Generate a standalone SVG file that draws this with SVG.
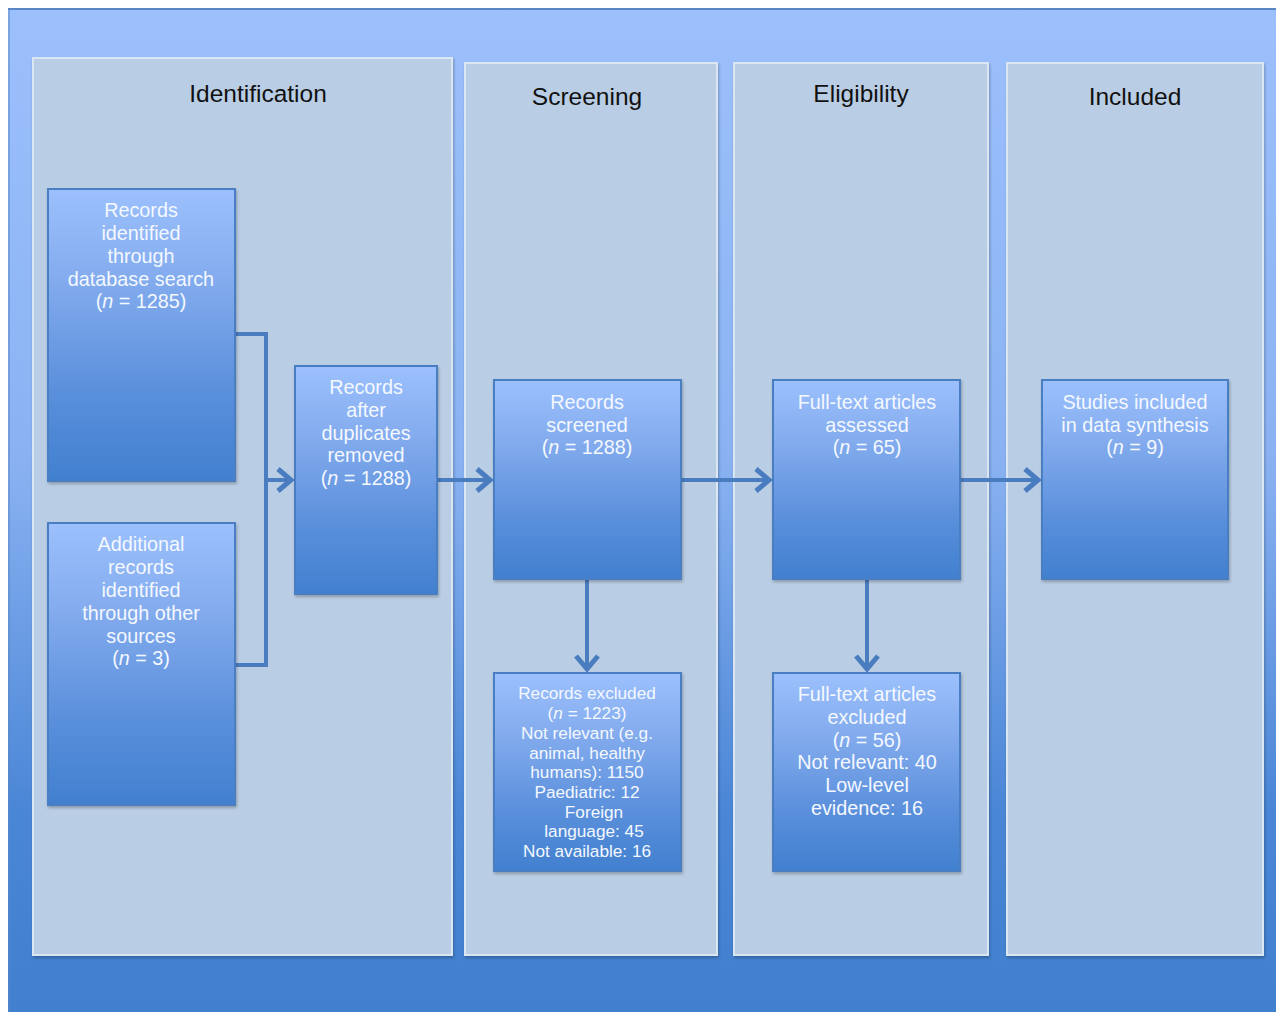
<svg xmlns="http://www.w3.org/2000/svg" width="1276" height="1012" viewBox="0 0 1276 1012">
<defs>
<linearGradient id="bg" x1="0" y1="0" x2="0" y2="1">
<stop offset="0" stop-color="#9cc0fc"/>
<stop offset="0.45" stop-color="#8ab2f2"/>
<stop offset="0.8" stop-color="#4a86d6"/>
<stop offset="1" stop-color="#4180cf"/>
</linearGradient>
<linearGradient id="box" x1="0" y1="0" x2="0" y2="1">
<stop offset="0" stop-color="#9cc0fd"/>
<stop offset="0.3" stop-color="#84acee"/>
<stop offset="0.7" stop-color="#5a8fdb"/>
<stop offset="1" stop-color="#4180cf"/>
</linearGradient>
<filter id="sh" x="-5%" y="-5%" width="115%" height="115%">
<feDropShadow dx="1" dy="2" stdDeviation="1.5" flood-color="#000" flood-opacity="0.25"/>
</filter>
</defs>
<style>
.panel{fill:#b9cde4;stroke:#dbe6f3;stroke-width:2}
.node{fill:url(#box);stroke:#4a7fc2;stroke-width:2}
.t{font-family:"Liberation Sans",Arial,sans-serif;font-size:19.8px;fill:#f4f8ff;text-anchor:middle}
.ts{font-family:"Liberation Sans",Arial,sans-serif;font-size:17.2px;fill:#f4f8ff;text-anchor:middle}
.h{font-family:"Liberation Sans",Arial,sans-serif;font-size:24.5px;fill:#111111;text-anchor:middle}
.c{fill:none;stroke:#4a7dc0;stroke-width:4}
.ah{fill:none;stroke:#4a7dc0;stroke-width:5;stroke-linejoin:miter}
</style>
<rect x="8" y="8" width="1268" height="1004" fill="url(#bg)"/>
<line x1="8" y1="9" x2="1276" y2="9" stroke="#5b87c6" stroke-width="2"/>
<line x1="9" y1="8" x2="9" y2="1012" stroke="#5b87c6" stroke-width="1"/>

<g id="panel-identification">
<rect class="panel" x="33" y="58" width="419" height="897" filter="url(#sh)"/>
<text class="h" x="258" y="102">Identification</text>
</g>
<g id="panel-screening">
<rect class="panel" x="465" y="63" width="252" height="892" filter="url(#sh)"/>
<text class="h" x="587" y="105">Screening</text>
</g>
<g id="panel-eligibility">
<rect class="panel" x="734" y="63" width="254" height="892" filter="url(#sh)"/>
<text class="h" x="861" y="102">Eligibility</text>
</g>
<g id="panel-included">
<rect class="panel" x="1007" y="63" width="256" height="892" filter="url(#sh)"/>
<text class="h" x="1135" y="105">Included</text>
</g>

<g id="connectors">
<polyline class="c" points="235,334 266,334 266,665 235,665"/>
<line class="c" x1="266" y1="480" x2="292" y2="480"/>
<polyline class="ah" points="278,469 291,480 278,491"/>
<line class="c" x1="437" y1="480" x2="491" y2="480"/>
<polyline class="ah" points="477,469 490,480 477,491"/>
<line class="c" x1="681" y1="480" x2="770" y2="480"/>
<polyline class="ah" points="756,469 769,480 756,491"/>
<line class="c" x1="960" y1="480" x2="1039" y2="480"/>
<polyline class="ah" points="1025,469 1038,480 1025,491"/>
<line class="c" x1="587" y1="579" x2="587" y2="670"/>
<polyline class="ah" points="576,656 587,669 598,656"/>
<line class="c" x1="867" y1="579" x2="867" y2="670"/>
<polyline class="ah" points="856,656 867,669 878,656"/>
</g>

<g id="node-db">
<rect class="node" x="48" y="189" width="187" height="292" filter="url(#sh)"/>
<text class="t" x="141" y="217">Records</text>
<text class="t" x="141" y="240">identified</text>
<text class="t" x="141" y="263">through</text>
<text class="t" x="141" y="286">database search</text>
<text class="t" x="141" y="308">(<tspan font-style="italic">n</tspan> = 1285)</text>
</g>
<g id="node-other">
<rect class="node" x="48" y="523" width="187" height="282" filter="url(#sh)"/>
<text class="t" x="141" y="551">Additional</text>
<text class="t" x="141" y="574">records</text>
<text class="t" x="141" y="597">identified</text>
<text class="t" x="141" y="620">through other</text>
<text class="t" x="141" y="643">sources</text>
<text class="t" x="141" y="665">(<tspan font-style="italic">n</tspan> = 3)</text>
</g>
<g id="node-dup">
<rect class="node" x="295" y="366" width="142" height="228" filter="url(#sh)"/>
<text class="t" x="366" y="394">Records</text>
<text class="t" x="366" y="417">after</text>
<text class="t" x="366" y="440">duplicates</text>
<text class="t" x="366" y="462">removed</text>
<text class="t" x="366" y="485">(<tspan font-style="italic">n</tspan> = 1288)</text>
</g>
<g id="node-screened">
<rect class="node" x="494" y="380" width="187" height="199" filter="url(#sh)"/>
<text class="t" x="587" y="409">Records</text>
<text class="t" x="587" y="432">screened</text>
<text class="t" x="587" y="454">(<tspan font-style="italic">n</tspan> = 1288)</text>
</g>
<g id="node-excluded">
<rect class="node" x="494" y="673" width="187" height="198" filter="url(#sh)"/>
<text class="ts" x="587" y="699">Records excluded</text>
<text class="ts" x="587" y="719">(<tspan font-style="italic">n</tspan> = 1223)</text>
<text class="ts" x="587" y="739">Not relevant (e.g.</text>
<text class="ts" x="587" y="759">animal, healthy</text>
<text class="ts" x="587" y="778">humans): 1150</text>
<text class="ts" x="587" y="798">Paediatric: 12</text>
<text class="ts" x="594" y="818">Foreign</text>
<text class="ts" x="594" y="837">language: 45</text>
<text class="ts" x="587" y="857">Not available: 16</text>
</g>
<g id="node-ft-assessed">
<rect class="node" x="773" y="380" width="187" height="199" filter="url(#sh)"/>
<text class="t" x="867" y="409">Full-text articles</text>
<text class="t" x="867" y="432">assessed</text>
<text class="t" x="867" y="454">(<tspan font-style="italic">n</tspan> = 65)</text>
</g>
<g id="node-ft-excluded">
<rect class="node" x="773" y="673" width="187" height="198" filter="url(#sh)"/>
<text class="t" x="867" y="701">Full-text articles</text>
<text class="t" x="867" y="724">excluded</text>
<text class="t" x="867" y="747">(<tspan font-style="italic">n</tspan> = 56)</text>
<text class="t" x="867" y="769">Not relevant: 40</text>
<text class="t" x="867" y="792">Low-level</text>
<text class="t" x="867" y="815">evidence: 16</text>
</g>
<g id="node-included">
<rect class="node" x="1042" y="380" width="186" height="199" filter="url(#sh)"/>
<text class="t" x="1135" y="409">Studies included</text>
<text class="t" x="1135" y="432">in data synthesis</text>
<text class="t" x="1135" y="454">(<tspan font-style="italic">n</tspan> = 9)</text>
</g>
</svg>
